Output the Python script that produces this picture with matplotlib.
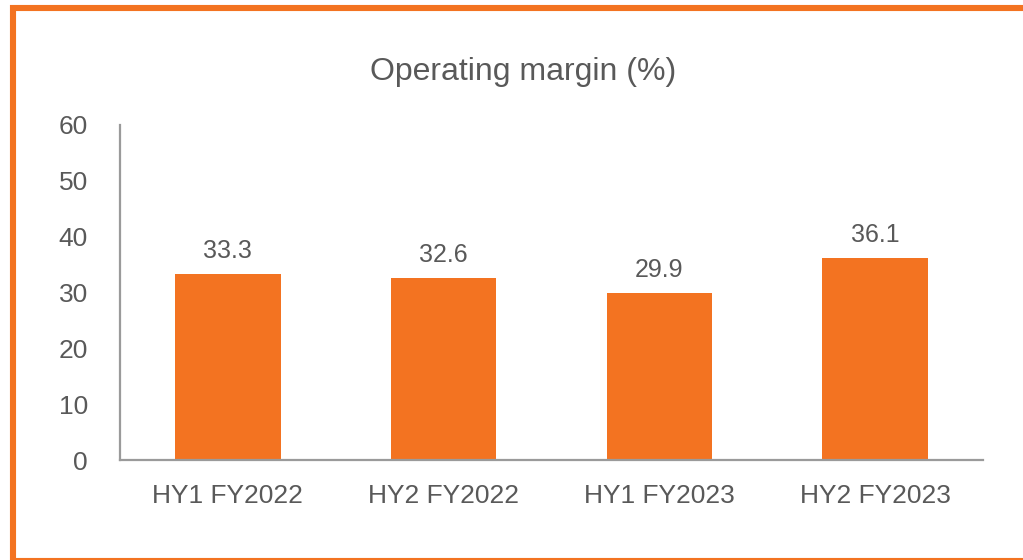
import matplotlib
matplotlib.use("Agg")
import matplotlib.pyplot as plt
from matplotlib.patches import Rectangle

categories = ["HY1 FY2022", "HY2 FY2022", "HY1 FY2023", "HY2 FY2023"]
values = [33.3, 32.6, 29.9, 36.1]
yticks = [0, 10, 20, 30, 40, 50, 60]
title = "Operating margin (%)"

W, H = 1023, 560
plt.rcParams['font.family'] = ['Liberation Sans', 'DejaVu Sans']
fig = plt.figure(figsize=(W / 100, H / 100), dpi=100)
fig.patch.set_facecolor("white")

orange = "#F37321"
textc = "#595959"
axc = "#9A9A9A"

# outer orange frame
fig.patches.append(Rectangle((13 / W, -1 / H), 1.1, (H - 8 + 1) / H, transform=fig.transFigure,
                             fill=False, edgecolor=orange, linewidth=4.4, zorder=0))

ax = fig.add_axes([120 / W, (H - 460) / H, (983 - 120) / W, (460 - 125) / H])
x = list(range(len(categories)))
bars = ax.bar(x, values, width=0.49, color=orange, zorder=2)
ax.set_xlim(-0.5, len(categories) - 0.5)
ax.set_ylim(0, 60)
ax.set_yticks(yticks)
ax.set_yticklabels([str(v) for v in yticks])
ax.set_xticks(x)
ax.set_xticklabels(categories)
ax.tick_params(axis='both', length=0, colors=textc, labelsize=19)
ax.tick_params(axis='y', pad=23)
ax.tick_params(axis='x', pad=17)
for s in ["top", "right"]:
    ax.spines[s].set_visible(False)
for s in ["left", "bottom"]:
    ax.spines[s].set_color(axc)
    ax.spines[s].set_linewidth(1.6)
ax.set_facecolor("white")

for b, v in zip(bars, values):
    ax.annotate(f"{v:.1f}", (b.get_x() + b.get_width() / 2, v), xytext=(0, 8),
                textcoords="offset points", ha="center", va="bottom",
                fontsize=18, color=textc)

fig.text(523 / W, 1 - 72 / H, title, ha="center", va="center", fontsize=23, color=textc)

fig.savefig("out.png", dpi=100, facecolor="white")
